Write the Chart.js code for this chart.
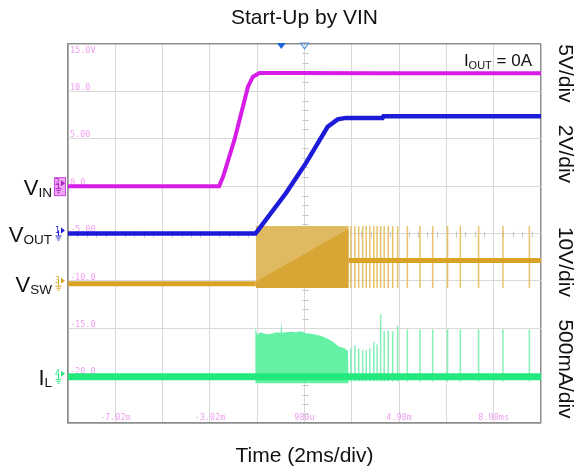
<!DOCTYPE html>
<html><head><meta charset="utf-8">
<script src="https://cdn.jsdelivr.net/npm/chart.js@4/dist/chart.umd.min.js"></script>
<style>html,body{margin:0;padding:0;background:#fff;}canvas{display:block}</style>
</head><body>
<canvas id="c" width="578" height="473"></canvas>
<script>
// ---------------- data ----------------
const xTickValues = [-9.02, -7.02, -5.02, -3.02, -1.02, 0.98, 2.98, 4.98, 6.98, 8.98, 10.98];
const xTickLabels = ['', '-7.02m', '', '-3.02m', '', '980u', '', '4.98m', '', '8.98ms', ''];
const yTickLabels = ['', '-20.0', '-15.0', '-10.0', '-5.00', '0.0', '5.00', '10.0', '15.0V'];
const leftLabelMain = ['V', 'V', 'V', 'I'];
const leftLabelSub = ['IN', 'OUT', 'SW', 'L'];
const channelScaleLabels = ['5V/div', '2V/div', '10V/div', '500mA/div'];
const channelNumbers = ['2', '1', '3', '4'];

// VIN (V), time in ms
const vinTime  = [-9.02, -2.63, -2.46, -1.98, -1.41, -1.20, -0.92, 0.5, 4.0, 10.98];
const vinVolts = [0, 0, 1.0, 4.9, 10.5, 11.55, 11.95, 11.95, 11.9, 11.9];

// VOUT (V)
const voutTime  = [-9.02, -1.09, 0.20, 1.04, 1.96, 2.38, 2.73, 4.28, 4.32, 10.98];
const voutVolts = [0, 0, 1.71, 2.97, 4.51, 4.82, 4.88, 4.88, 4.95, 4.95];

// VSW (V): baseline before / after switching burst
const vswTime  = [-9.02, -1.08, null, 2.85, 10.98];
const vswVolts = [0, 0, null, 4.9, 4.9];
// dense switching block envelope
const vswBlockTime = [-1.08, 2.85];
const vswBlockHigh = [12.2, 12.2];
const vswBlockLow  = [-0.9, -0.9];
const vswBlockMid  = [0.4, 11.6];
// isolated burst pulses (ms)
const pulseTimes = [2.94, 3.11, 3.27, 3.44, 3.59, 3.74, 3.91, 4.05, 4.20, 4.35, 4.52, 4.71, 4.92, 5.33, 5.86, 6.40, 7.03, 7.57, 8.34, 9.37, 10.49];

// IL (A)
const ilTime = [-9.02, 10.98];
const ilAmps = [0, 0];
const ilBlockTime = [-1.104, -1.08, -1.02, -0.90, -0.77, -0.60, -0.43, -0.20, -0.03, 0.0, 0.03, 0.20, 0.41, 0.60, 0.83, 1.04, 1.25, 1.46, 1.70, 1.885, 2.05, 2.18, 2.30, 2.43, 2.56, 2.69, 2.82, 2.85];
const ilBlockHigh = [0.52, 0.52, 0.44, 0.47, 0.46, 0.45, 0.455, 0.47, 0.465, 0.585, 0.465, 0.47, 0.475, 0.47, 0.48, 0.46, 0.455, 0.445, 0.43, 0.41, 0.39, 0.37, 0.345, 0.32, 0.31, 0.30, 0.27, 0.27];
const ilBlockLow = ilBlockTime.map(() => -0.067);
const ilPulsePeaks = [0.30, 0.33, 0.30, 0.28, 0.28, 0.30, 0.37, 0.34, 0.66, 0.48, 0.49, 0.48, 0.54, 0.50, 0.50, 0.50, 0.50, 0.50, 0.50, 0.50, 0.50];
const ilPulseLow = -0.05;

// ---------------- channel placement (per div, ground offset in divs) ----------------
const CH = {
  vin:  { perDiv: 5,   offset: 5.0 },
  vout: { perDiv: 2,   offset: 4.0 },
  vsw:  { perDiv: 10,  offset: 2.94 },
  il:   { perDiv: 0.5, offset: 0.975 }
};
const toDiv = (v, c) => (v === null ? null : c.offset + v / c.perDiv);
const series = (ts, vs, c) => ts.map((t, i) => ({ x: t === null ? (ts[i - 1] + ts[i + 1]) / 2 : t, y: toDiv(vs[i], c) }));
const pulses = (ts, lows, highs, c) => ts.flatMap((t, i) => [
  { x: t, y: toDiv(Array.isArray(lows) ? lows[i] : lows, c) },
  { x: t, y: toDiv(Array.isArray(highs) ? highs[i] : highs, c) },
  { x: t, y: null }
]);

const COL = {
  vin: '#d61ce6', vout: '#1c1cd8', vsw: '#d9a324', il: '#22e87e',
  grid: '#d9d9d9', border: '#8e8e8e', tick: '#f0a0f0'
};
const FONT = '"Liberation Sans", Arial, sans-serif';

const line = (data, color, width, order, extra) => Object.assign({
  data, borderColor: color, backgroundColor: color, borderWidth: width,
  pointRadius: 0, tension: 0, fill: false, spanGaps: false, order
}, extra || {});

const datasets = [
  line(series(voutTime, voutVolts, CH.vout), COL.vout, 4.5, 1),                     // 0
  line(series(vinTime, vinVolts, CH.vin), COL.vin, 4, 2),                           // 1
  line(series(vswTime, vswVolts, CH.vsw), COL.vsw, 5, 4),                           // 2
  line(series(vswBlockTime, vswBlockHigh, CH.vsw), 'rgba(0,0,0,0)', 0, 7,
       { fill: 4, backgroundColor: 'rgb(224,186,96)' }),                             // 3
  line(series(vswBlockTime, vswBlockLow, CH.vsw), 'rgba(0,0,0,0)', 0, 8),           // 4
  line(series(vswBlockTime, vswBlockMid, CH.vsw), 'rgba(0,0,0,0)', 0, 6,
       { fill: 4, backgroundColor: 'rgb(216,166,52)' }),                             // 5
  line(pulses(pulseTimes, vswBlockLow[0], vswBlockHigh[0], CH.vsw), 'rgba(228,184,80,0.85)', 1.5, 5), // 6
  line(series(ilTime, ilAmps, CH.il), COL.il, 7, 3),                                // 7
  line(series(ilBlockTime, ilBlockHigh, CH.il), 'rgba(0,0,0,0)', 0, 9,
       { fill: 9, backgroundColor: 'rgba(92,240,160,0.95)' }),                       // 8
  line(series(ilBlockTime, ilBlockLow, CH.il), 'rgba(0,0,0,0)', 0, 10),             // 9
  line(pulses(pulseTimes, ilPulseLow, ilPulsePeaks, CH.il), 'rgba(110,238,170,0.85)', 1.5, 3.5) // 10
];

function subText(ctx, main, sub, tail, xRight, base, mSize, sSize, drop, color) {
  ctx.fillStyle = color;
  ctx.textBaseline = 'alphabetic';
  ctx.textAlign = 'left';
  ctx.font = mSize + 'px ' + FONT;
  const wm = ctx.measureText(main).width;
  const wt = tail ? ctx.measureText(tail).width : 0;
  ctx.font = sSize + 'px ' + FONT;
  const ws = ctx.measureText(sub).width;
  let x = xRight - (wm + ws + wt);
  ctx.font = mSize + 'px ' + FONT;
  ctx.fillText(main, x, base);
  x += wm;
  ctx.font = sSize + 'px ' + FONT;
  ctx.fillText(sub, x, base + drop);
  x += ws;
  if (tail) { ctx.font = mSize + 'px ' + FONT; ctx.fillText(tail, x, base); }
}

function groundMark(ctx, gy, num, color, boxed) {
  ctx.save();
  if (boxed) {
    ctx.fillStyle = '#eea6f4';
    ctx.strokeStyle = '#c84ee0';
    ctx.lineWidth = 1;
    ctx.fillRect(54, gy - 9, 12, 19);
    ctx.strokeRect(54.5, gy - 8.5, 11, 18);
  }
  const c = boxed ? '#b020c8' : color;
  ctx.fillStyle = c; ctx.strokeStyle = c; ctx.lineWidth = 1;
  ctx.font = '8px "DejaVu Sans Mono", monospace';
  ctx.textAlign = 'left'; ctx.textBaseline = 'middle';
  ctx.fillText(num, 55, gy - 3);
  ctx.beginPath(); ctx.moveTo(61, gy - 6); ctx.lineTo(65, gy - 3); ctx.lineTo(61, gy); ctx.closePath(); ctx.fill();
  ctx.beginPath();
  ctx.moveTo(58.5, gy - 3); ctx.lineTo(58.5, gy + 2);
  ctx.moveTo(55.5, gy + 2.5); ctx.lineTo(61.5, gy + 2.5);
  ctx.moveTo(56.5, gy + 4.5); ctx.lineTo(60.5, gy + 4.5);
  ctx.moveTo(57.5, gy + 6.5); ctx.lineTo(59.5, gy + 6.5);
  ctx.stroke();
  ctx.restore();
}

const decor = {
  id: 'decor',
  beforeDatasetsDraw(chart) {
    const { ctx, scales: { x, y } } = chart;
    ctx.save();
    ctx.strokeStyle = '#c6c6c6'; ctx.lineWidth = 1;
    const cx = Math.round(x.getPixelForValue(0.98)) + 0.5;
    const cy = Math.round(y.getPixelForValue(4)) + 0.5;
    ctx.beginPath();
    for (let d = 1; d < 40; d++) {
      if (d % 5 === 0) continue;
      const py = Math.round(y.getPixelForValue(d / 5)) + 0.5;
      ctx.moveTo(cx - 3, py); ctx.lineTo(cx + 3, py);
    }
    for (let d = 1; d < 50; d++) {
      if (d % 5 === 0) continue;
      const px = Math.round(x.getPixelForValue(-9.02 + d * 0.4)) + 0.5;
      ctx.moveTo(px, cy - 3); ctx.lineTo(px, cy + 3);
    }
    ctx.stroke();
    ctx.restore();
  },
  afterDraw(chart) {
    const { ctx, chartArea: a, scales: { x, y } } = chart;
    ctx.save();
    // channel ground markers and names
    const chans = [CH.vin, CH.vout, CH.vsw, CH.il];
    const colors = [COL.vin, COL.vout, COL.vsw, COL.il];
    chans.forEach((c, i) => {
      const gy = y.getPixelForValue(c.offset);
      groundMark(ctx, gy, channelNumbers[i], colors[i], i === 0);
      subText(ctx, leftLabelMain[i], leftLabelSub[i], '', 52, gy + 8.5, 22, 13.5, 2, '#111');
    });
    // right-side scale labels (rotated)
    const centers = [7.38, 5.68, 3.40, 1.14];
    ctx.fillStyle = '#111';
    ctx.font = '21px ' + FONT;
    ctx.textAlign = 'center'; ctx.textBaseline = 'middle';
    channelScaleLabels.forEach((t, i) => {
      ctx.save();
      ctx.translate(a.right + 24, y.getPixelForValue(centers[i]));
      ctx.rotate(Math.PI / 2);
      ctx.fillText(t, 0, 0);
      ctx.restore();
    });
    // IOUT annotation
    subText(ctx, 'I', 'OUT', ' = 0A', a.right - 9, a.top + 22, 17, 11, 3, '#111');
    // trigger markers
    const tx = x.getPixelForValue(0);
    ctx.fillStyle = '#1e66d6';
    ctx.beginPath(); ctx.moveTo(tx - 4.5, a.top - 1); ctx.lineTo(tx + 4.5, a.top - 1); ctx.lineTo(tx, a.top + 5); ctx.closePath(); ctx.fill();
    const hx = x.getPixelForValue(0.98);
    ctx.strokeStyle = '#5a96e2'; ctx.lineWidth = 1.2;
    ctx.beginPath(); ctx.moveTo(hx - 4, a.top - 1); ctx.lineTo(hx + 4, a.top - 1); ctx.lineTo(hx, a.top + 5); ctx.closePath(); ctx.stroke();
    ctx.restore();
  }
};

new Chart(document.getElementById('c'), {
  type: 'line',
  data: { datasets },
  plugins: [decor],
  options: {
    responsive: false,
    devicePixelRatio: 1,
    animation: false,
    events: [],
    layout: { padding: { left: 64, right: 37, top: 0, bottom: 0 } },
    plugins: {
      legend: { display: false },
      tooltip: { enabled: false },
      title: {
        display: true, text: 'Start-Up by VIN', fullSize: false,
        color: '#111', font: { family: FONT, size: 21, weight: 'normal' },
        padding: { top: 5.5, bottom: 13.3 }
      },
      filler: { propagate: false }
    },
    scales: {
      x: {
        type: 'linear', min: xTickValues[0], max: xTickValues[xTickValues.length - 1],
        afterBuildTicks: s => { s.ticks = xTickValues.map(v => ({ value: v })); },
        grid: {
          drawTicks: false,
          color: c => (c.index === 0 || c.index === xTickValues.length - 1) ? COL.border : COL.grid,
          lineWidth: c => (c.index === 0 || c.index === xTickValues.length - 1) ? 1.5 : 1
        },
        border: { display: true, color: COL.border, width: 1.5 },
        ticks: {
          mirror: true, padding: 0, maxRotation: 0, minRotation: 0, autoSkip: false,
          color: COL.tick, font: { family: '"DejaVu Sans Mono", monospace', size: 8.5 },
          callback: (v, i) => xTickLabels[i]
        },
        title: {
          display: true, text: 'Time (2ms/div)', color: '#111',
          font: { family: FONT, size: 21, weight: 'normal' },
          padding: { top: 20.4, bottom: 4.4 }
        }
      },
      y: {
        type: 'linear', min: 0, max: 8,
        afterBuildTicks: s => { s.ticks = yTickLabels.map((_, i) => ({ value: i })); },
        grid: {
          drawTicks: false,
          color: c => (c.index === 0 || c.index === 8) ? COL.border : COL.grid,
          lineWidth: c => (c.index === 0 || c.index === 8) ? 1.5 : 1
        },
        border: { display: true, color: COL.border, width: 1.5 },
        ticks: {
          mirror: true, padding: 2, labelOffset: -3.5, autoSkip: false,
          color: COL.tick, font: { family: '"DejaVu Sans Mono", monospace', size: 8.5 },
          callback: (v, i) => (i === yTickLabels.length - 1 ? ['', '', yTickLabels[i]] : yTickLabels[i])
        }
      }
    }
  }
});
</script>
</body></html>
